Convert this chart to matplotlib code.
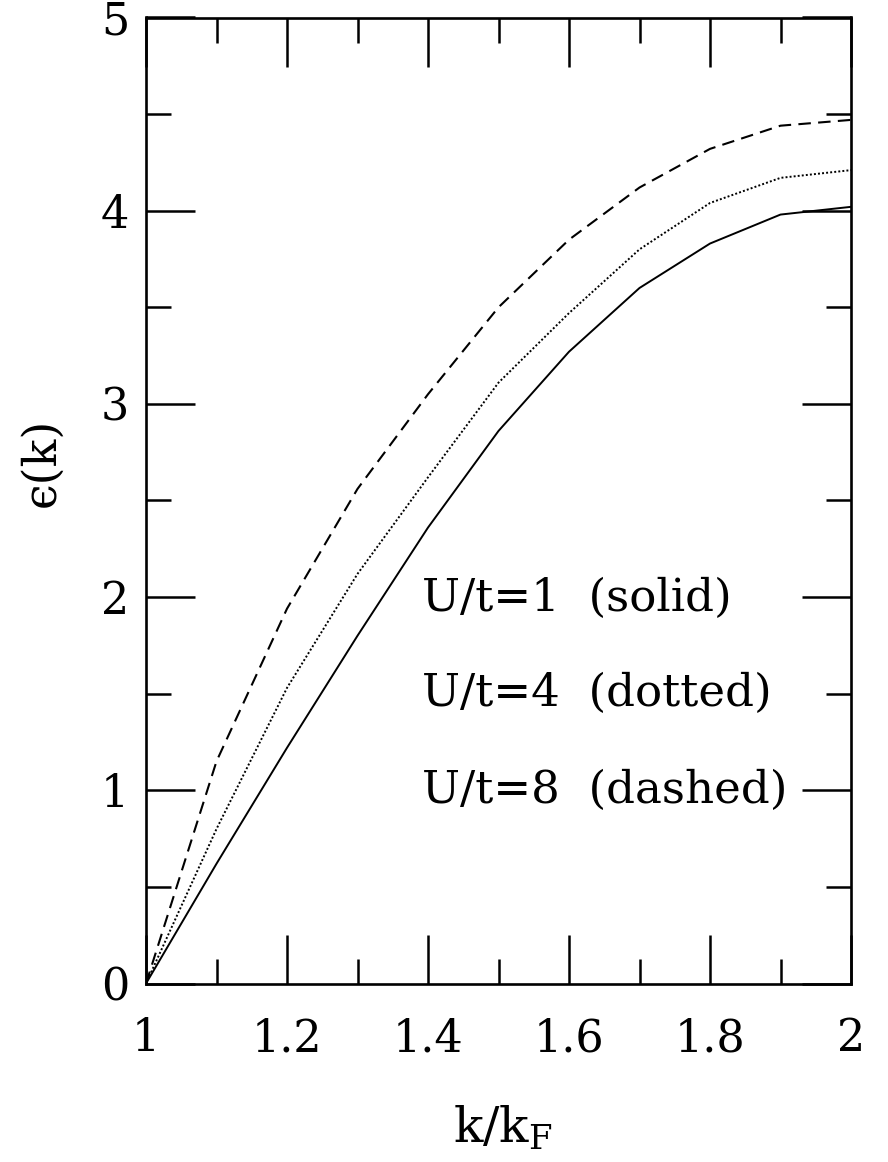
import matplotlib
matplotlib.use("Agg")
import matplotlib.pyplot as plt
from matplotlib.ticker import MultipleLocator

# Quasiparticle dispersion above the Fermi surface for three couplings
k_over_kf = [1.0, 1.1, 1.2, 1.3, 1.4, 1.5, 1.6, 1.7, 1.8, 1.9, 2.0]
eps_u1 = [0.0, 0.62, 1.22, 1.80, 2.36, 2.86, 3.27, 3.60, 3.83, 3.98, 4.02]
eps_u4 = [0.0, 0.80, 1.53, 2.12, 2.62, 3.11, 3.47, 3.80, 4.04, 4.17, 4.21]
eps_u8 = [0.0, 1.15, 1.94, 2.56, 3.05, 3.50, 3.85, 4.12, 4.32, 4.44, 4.47]

x_ticks = [1.0, 1.2, 1.4, 1.6, 1.8, 2.0]
x_tick_labels = ["1", "1.2", "1.4", "1.6", "1.8", "2"]
y_ticks = [0, 1, 2, 3, 4, 5]
y_tick_labels = ["0", "1", "2", "3", "4", "5"]
series_labels = ["U/t=1  (solid)", "U/t=4  (dotted)", "U/t=8  (dashed)"]

plt.rcParams["font.family"] = ["DejaVu Serif"]
plt.rcParams["mathtext.fontset"] = "dejavuserif"

W, H = 888, 1162
fig = plt.figure(figsize=(W / 100, H / 100), dpi=100)
fig.patch.set_facecolor("white")

left, right, top, bottom = 146, 851, 17.5, 983.5
ax = fig.add_axes([left / W, 1 - bottom / H, (right - left) / W, (bottom - top) / H])

ax.plot(k_over_kf, eps_u1, color="black", lw=1.4, ls="-")
ax.plot(k_over_kf, eps_u4, color="black", lw=1.4, ls=(0, (1, 1.1)))
ax.plot(k_over_kf, eps_u8, color="black", lw=1.5, ls=(0, (6, 3.5)))

ax.set_xlim(1, 2)
ax.set_ylim(0, 5)
ax.set_xticks(x_ticks, x_tick_labels)
ax.set_yticks(y_ticks, y_tick_labels)
ax.xaxis.set_minor_locator(MultipleLocator(0.1))
ax.yaxis.set_minor_locator(MultipleLocator(0.5))

ax.tick_params(which="both", direction="in", top=True, right=True,
               width=1.8, color="black")
ax.tick_params(which="major", length=35, labelsize=32)
ax.tick_params(which="minor", length=18)
ax.tick_params(axis="x", pad=24)
ax.tick_params(axis="y", pad=12)
for sp in ax.spines.values():
    sp.set_linewidth(1.9)

label_rows = [0.399, 0.300, 0.200]
for text, yy in zip(series_labels, label_rows):
    ax.text(0.392, yy, text, transform=ax.transAxes, fontsize=32.5,
            ha="left", va="center")

fig.text(503 / W, 1 - 1128 / H, r"k/k$_{\mathrm{F}}$", fontsize=35,
         ha="center", va="center")
fig.text(42 / W, 1 - 462 / H, "\u03f5(k)", fontsize=33, rotation=90,
         ha="center", va="center")

fig.savefig("out.png", dpi=100)
